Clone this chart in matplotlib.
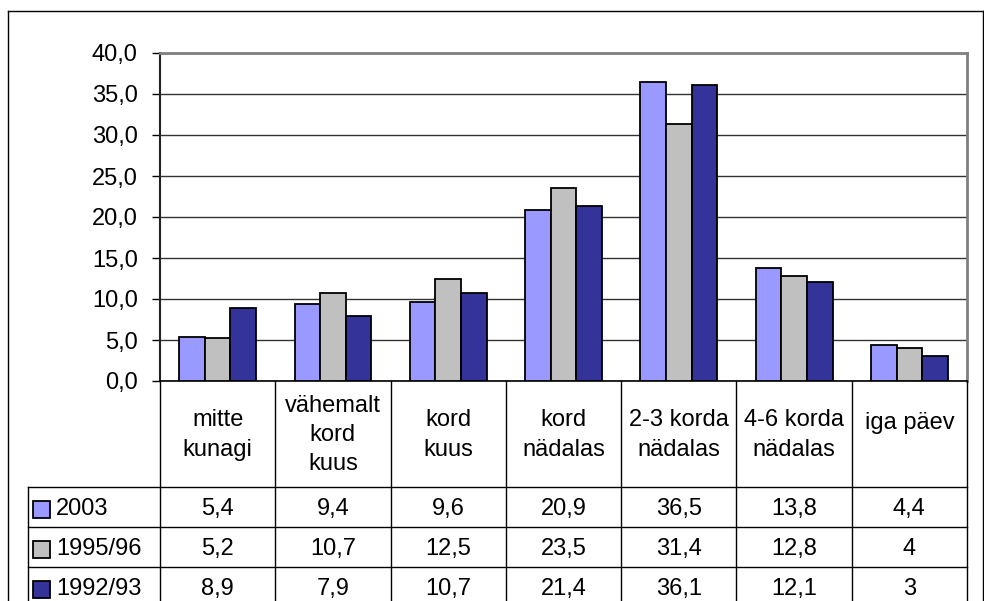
import matplotlib
matplotlib.use("Agg")
import matplotlib.pyplot as plt
import numpy as np

plt.rcParams['font.family'] = ['Liberation Sans', 'DejaVu Sans']

categories = ["mitte\nkunagi", "vähemalt\nkord\nkuus", "kord\nkuus", "kord\nnädalas",
              "2-3 korda\nnädalas", "4-6 korda\nnädalas", "iga päev"]
series_names = ["2003", "1995/96", "1992/93"]
v2003 = [5.4, 9.4, 9.6, 20.9, 36.5, 13.8, 4.4]
v1995 = [5.2, 10.7, 12.5, 23.5, 31.4, 12.8, 4]
v1992 = [8.9, 7.9, 10.7, 21.4, 36.1, 12.1, 3]
table_text = [["5,4", "9,4", "9,6", "20,9", "36,5", "13,8", "4,4"],
              ["5,2", "10,7", "12,5", "23,5", "31,4", "12,8", "4"],
              ["8,9", "7,9", "10,7", "21,4", "36,1", "12,1", "3"]]
yticks = [0, 5, 10, 15, 20, 25, 30, 35, 40]
ytick_labels = ["0,0", "5,0", "10,0", "15,0", "20,0", "25,0", "30,0", "35,0", "40,0"]
colors = ["#9999FF", "#C0C0C0", "#333399"]

FS = 17
W, H = 984, 601
fig = plt.figure(figsize=(W / 100, H / 100), dpi=100)

# pixel layout
L, R, T, B = 160, 967, 53, 381
ax = fig.add_axes([L / W, 1 - B / H, (R - L) / W, (B - T) / H])

series = [v2003, v1995, v1992]
n = len(categories)
x = np.arange(n)
bw = 1 / 4.5
for i, (vals, c) in enumerate(zip(series, colors)):
    ax.bar(x + (i - 1) * bw, vals, width=bw, color=c, edgecolor="black", linewidth=1.3, zorder=3)

ax.set_xlim(-0.5, n - 0.5)
ax.set_ylim(0, 40)
ax.set_yticks(yticks)
ax.set_yticklabels(ytick_labels, fontsize=FS)
ax.set_xticks([])
ax.yaxis.grid(True, color="#333333", linewidth=1.0, zorder=0)
ax.tick_params(axis="y", direction="out", length=6, width=1, pad=10, color="black")
for s in ["top", "right"]:
    ax.spines[s].set_color("#808080")
    ax.spines[s].set_linewidth(2)
ax.spines["left"].set_color("#222222")
ax.spines["left"].set_linewidth(1.5)
ax.spines["bottom"].set_color("black")
ax.spines["bottom"].set_linewidth(1.2)

# overlay axes in pixel coordinates for table and frame
ov = fig.add_axes([0, 0, 1, 1], zorder=5)
ov.set_xlim(0, W)
ov.set_ylim(H, 0)
ov.axis("off")
ov.patch.set_alpha(0)

lk = dict(color="black", linewidth=1.0)
# outer frame
ov.plot([8, 8], [11, H + 5], **lk)
ov.plot([8, 983], [11, 11], **lk)
ov.plot([983, 983], [11, H + 5], **lk)

colw = (R - L) / n
hdr_bot = 487
row_h = 40
leg_left = 28
# vertical lines
for k in range(n + 1):
    xx = L + k * colw
    ov.plot([xx, xx], [B, H + 5], **lk)
ov.plot([leg_left, leg_left], [hdr_bot, H + 5], **lk)
for r in range(3):
    yy = hdr_bot + r * row_h
    ov.plot([leg_left, R], [yy, yy], **lk)

# header texts
for k, cat in enumerate(categories):
    cx = L + (k + 0.5) * colw
    cy = (B + hdr_bot) / 2 + 1 if "\n" in cat else 423
    ov.text(cx, cy, cat, ha="center", va="center", fontsize=FS, linespacing=1.42)

# rows
for r in range(3):
    cy = hdr_bot + (r + 0.5) * row_h + 2
    ov.add_patch(plt.Rectangle((33, cy - 8.5), 17, 17, facecolor=colors[r],
                               edgecolor="black", linewidth=1.3))
    ov.text(56, cy, series_names[r], ha="left", va="center", fontsize=FS)
    for k in range(n):
        cx = L + (k + 0.5) * colw
        ov.text(cx, cy, table_text[r][k], ha="center", va="center", fontsize=FS)

fig.savefig("out.png", dpi=100)
